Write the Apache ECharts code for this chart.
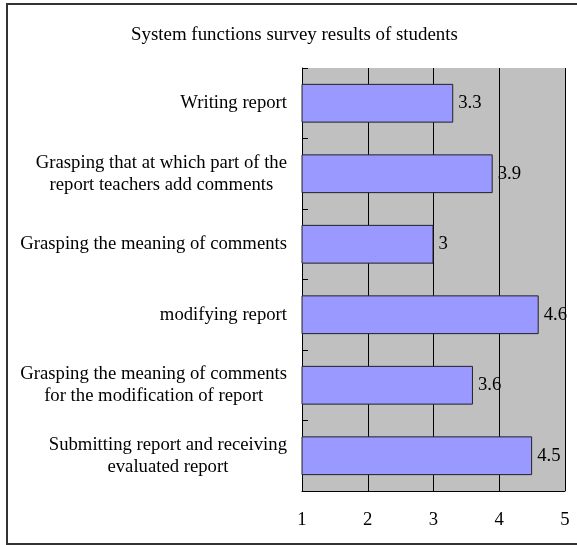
<!DOCTYPE html>
<html>
<head>
<meta charset="utf-8">
<script src="https://cdn.jsdelivr.net/npm/echarts@6/dist/echarts.min.js"></script>
<style>html,body{margin:0;padding:0;background:#fff}#c{width:577px;height:545px}</style>
</head>
<body>
<div id="c"></div>
<script>
var titleText = 'System functions survey results of students';
var categories = [
  'Writing report',
  'Grasping that at which part of the\nreport teachers add comments',
  'Grasping the meaning of comments',
  'modifying report',
  'Grasping the meaning of comments\nfor the modification of report',
  'Submitting report and receiving\nevaluated report'
];
var values = [3.3, 3.9, 3.0, 4.6, 3.6, 4.5];
var xTicks = [1, 2, 3, 4, 5];

var FONT = '"Liberation Serif", "Times New Roman", serif';
var FS = 18.7;
var chart = echarts.init(document.getElementById('c'), null, {renderer: 'canvas'});
chart.setOption({
  animation: false,
  backgroundColor: '#fff',
  title: {
    text: titleText,
    left: 126,
    top: 21,
    textStyle: {fontFamily: FONT, fontSize: 18.9, fontWeight: 'normal', color: '#000'}
  },
  graphic: [{
    type: 'rect',
    shape: {x: 7, y: 4, width: 590, height: 540},
    style: {fill: 'none', stroke: '#333', lineWidth: 2},
    silent: true
  }],
  grid: {left: 302, right: 12, top: 68, bottom: 54, backgroundColor: '#c0c0c0', show: true, borderWidth: 0},
  xAxis: {
    type: 'value',
    min: xTicks[0],
    max: xTicks[xTicks.length - 1],
    interval: 1,
    axisLine: {show: true, lineStyle: {color: '#000', width: 1}},
    axisTick: {show: false},
    splitLine: {show: true, lineStyle: {color: '#000', width: 1}},
    axisLabel: {fontFamily: FONT, fontSize: FS, color: '#000', margin: 20}
  },
  yAxis: {
    type: 'category',
    inverse: true,
    data: categories,
    axisLine: {show: true, lineStyle: {color: '#000', width: 1}},
    axisTick: {show: true, inside: true, length: 6, lineStyle: {color: '#000'}},
    axisLabel: {
      fontFamily: FONT, fontSize: FS, color: '#000', margin: 15, lineHeight: 22,
      formatter: function (v) {
        return v.split('\n').map(function (s) { return '{c|' + s + '}'; }).join('\n');
      },
      rich: {c: {align: 'center', fontFamily: FONT, fontSize: FS, color: '#000', lineHeight: 22}}
    }
  },
  series: [{
    type: 'bar',
    data: values,
    barCategoryGap: '45%',
    itemStyle: {color: '#9999ff', borderColor: '#222', borderWidth: 1},
    label: {show: true, position: 'right', distance: 5, fontFamily: FONT, fontSize: FS, color: '#000'}
  }]
});
</script>
</body>
</html>
